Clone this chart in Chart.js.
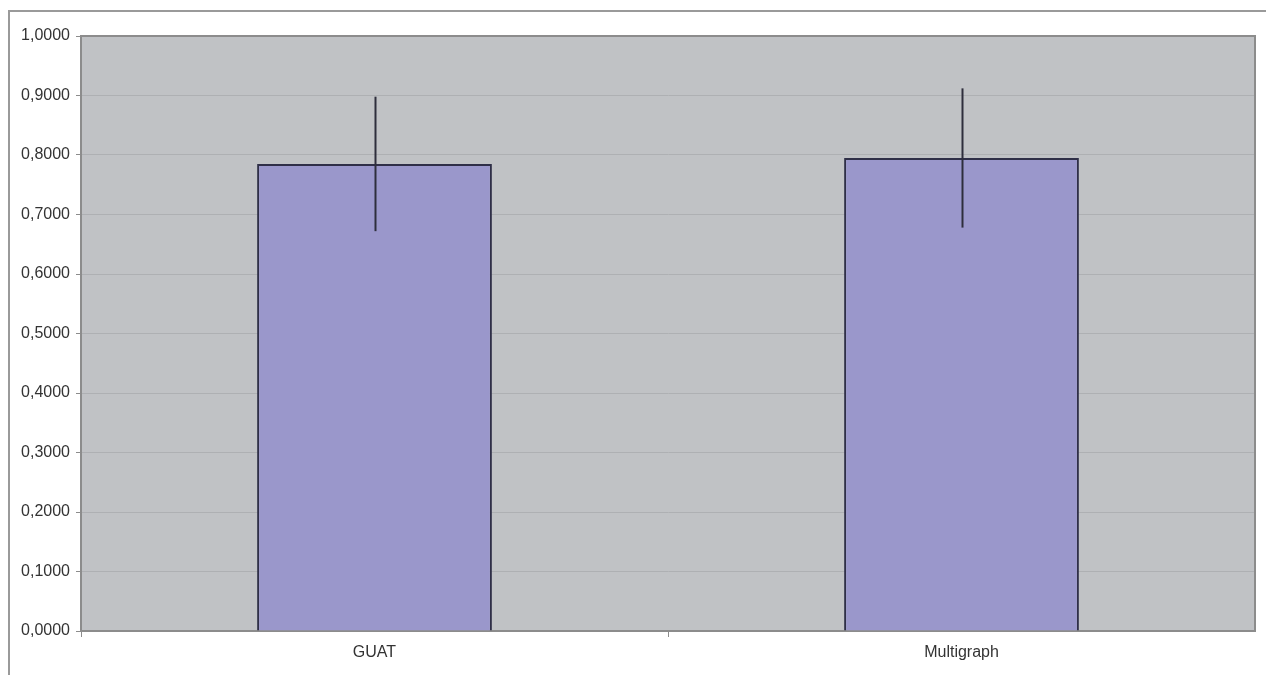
<!DOCTYPE html>
<html>
<head>
<meta charset="utf-8">
<script src="https://cdn.jsdelivr.net/npm/chart.js@4.4.1/dist/chart.umd.min.js"></script>
<style>
  html, body { margin: 0; padding: 0; background: #ffffff; }
  #wrap { position: relative; width: 1266px; height: 675px; overflow: hidden; }
  #frame {
    position: absolute; left: 8px; top: 10px; right: -2px; bottom: -2px;
    border-top: 2px solid #9a9a9a; border-left: 2px solid #9a9a9a;
  }
  #chart { position: absolute; left: 0; top: 0; }
</style>
</head>
<body>
<div id="wrap">
  <div id="frame"></div>
  <canvas id="chart" width="1266" height="675"></canvas>
</div>
<script>
// Categories and measured means with their standard deviations
const categories = ['GUAT', 'Multigraph'];
const means = [0.785, 0.795];
const deviations = [0.113, 0.117];

// Y axis range
const yMin = 0;
const yMax = 1;
const yStep = 0.1;

const plotBg = '#c0c2c5';
const frameGray = '#8c8c8c';

// Grey plot area with a border round it
const plotAreaPlugin = {
  id: 'plotArea',
  beforeDraw(chart) {
    const { ctx, chartArea: a } = chart;
    ctx.save();
    ctx.fillStyle = plotBg;
    ctx.fillRect(a.left, a.top, a.right - a.left, a.bottom - a.top);
    ctx.restore();
  },
  beforeDatasetsDraw(chart) {
    const { ctx, chartArea: a } = chart;
    ctx.save();
    ctx.strokeStyle = frameGray;
    ctx.lineWidth = 2;
    ctx.beginPath();
    ctx.moveTo(a.left, a.top);
    ctx.lineTo(a.right, a.top);
    ctx.lineTo(a.right, a.bottom);
    ctx.stroke();
    ctx.restore();
  }
};

// Vertical error bars: mean ± deviation, positioned through the scales
const errorBarPlugin = {
  id: 'errorBars',
  afterDatasetsDraw(chart) {
    const { ctx } = chart;
    const meta = chart.getDatasetMeta(0);
    const y = chart.scales.y;
    ctx.save();
    ctx.strokeStyle = '#2e2e3c';
    ctx.lineWidth = 2;
    meta.data.forEach((bar, i) => {
      const top = y.getPixelForValue(means[i] + deviations[i]);
      const bottom = y.getPixelForValue(means[i] - deviations[i]);
      const x = Math.round(bar.x) + 0.5;
      ctx.beginPath();
      ctx.moveTo(x, top);
      ctx.lineTo(x, bottom);
      ctx.stroke();
    });
    ctx.restore();
  }
};

new Chart(document.getElementById('chart'), {
  type: 'bar',
  data: {
    labels: categories,
    datasets: [{
      data: means,
      backgroundColor: '#9a97cb',
      borderColor: '#2f2f48',
      borderWidth: 2,
      barPercentage: 0.4,
      categoryPercentage: 1.0
    }]
  },
  options: {
    responsive: false,
    animation: false,
    devicePixelRatio: 1,
    layout: { padding: { left: 0, top: 36, right: 11, bottom: 0 } },
    plugins: {
      legend: { display: false },
      tooltip: { enabled: false },
      title: { display: false }
    },
    scales: {
      x: {
        offset: true,
        grid: {
          offset: true,
          drawOnChartArea: false,
          drawTicks: true,
          tickLength: 6,
          // the closing boundary line has no tick of its own, so leave it out
          color: (c) => (c.tick ? '#8c8c8c' : 'rgba(0,0,0,0)'),
          lineWidth: 1
        },
        border: { display: true, color: frameGray, width: 2 },
        ticks: {
          padding: 6,
          color: '#333333',
          font: { family: 'Liberation Sans, Arial, sans-serif', size: 16 }
        },
        afterFit(scale) { scale.height = 44; }
      },
      y: {
        min: yMin,
        max: yMax,
        grid: {
          color: '#aeb0b3',
          lineWidth: 1,
          drawTicks: true,
          tickLength: 5,
          tickColor: '#8c8c8c'
        },
        border: { display: true, color: frameGray, width: 2 },
        ticks: {
          stepSize: yStep,
          padding: 6,
          color: '#333333',
          font: { family: 'Liberation Sans, Arial, sans-serif', size: 16 },
          callback: (v) => Number(v).toFixed(4).replace('.', ',')
        },
        afterFit(scale) { scale.width = 81; }
      }
    }
  },
  plugins: [plotAreaPlugin, errorBarPlugin]
});
</script>
</body>
</html>
